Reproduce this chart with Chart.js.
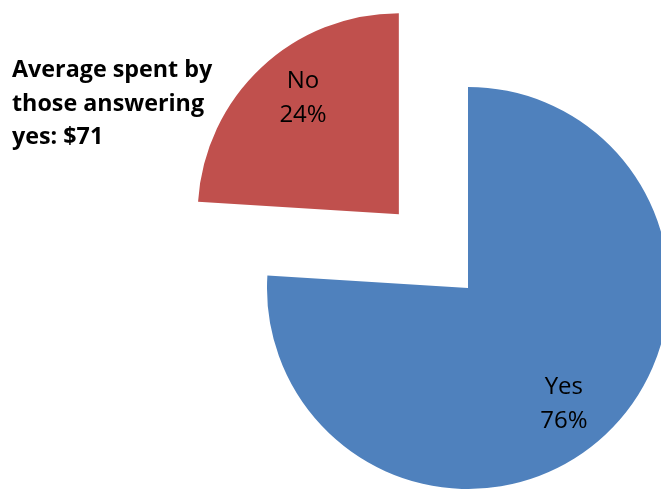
<!DOCTYPE html>
<html>
<head>
<meta charset="utf-8">
<script src="https://cdn.jsdelivr.net/npm/chart.js@4.4.1/dist/chart.umd.min.js"></script>
<style>
  html, body { margin: 0; padding: 0; background: #fff; }
  #wrap { width: 661px; height: 489px; }
</style>
</head>
<body>
<div id="wrap"><canvas id="pie" width="661" height="489"></canvas></div>
<script>
// survey answers
const answers = ["Yes", "No"];
const shares = [76, 24];
const sliceColors = ["#4F81BD", "#C0504D"];
const noteLines = ["Average spent by", "those answering", "yes: $71"];

// draws "Yes / 76%" inside each slice, plus the side note
const sliceLabels = {
  id: "sliceLabels",
  afterDatasetsDraw(chart) {
    const ctx = chart.ctx;
    const arcs = chart.getDatasetMeta(0).data;
    ctx.save();
    ctx.fillStyle = "#000";
    ctx.textAlign = "center";
    ctx.textBaseline = "middle";
    ctx.font = "24px 'Open Sans'";
    arcs.forEach((arc, i) => {
      const half = (arc.startAngle + arc.endAngle) / 2;
      const mid = half + 0.065;
      // arcs are pushed out by a quarter of their offset option
      const shift = (arc.options.offset || 0) / 4;
      const cx = arc.x + Math.cos(half) * shift;
      const cy = arc.y + Math.sin(half) * shift;
      const d = arc.outerRadius * 0.75;
      const x = cx + Math.cos(mid) * d;
      const y = cy + Math.sin(mid) * d;
      ctx.fillText(answers[i], x, y - 17);
      ctx.fillText(shares[i] + "%", x, y + 17);
    });

    ctx.textAlign = "left";
    ctx.textBaseline = "alphabetic";
    ctx.font = "bold 23.3px 'Open Sans'";
    noteLines.forEach((line, i) => ctx.fillText(line, 12, 77 + i * 33.5));
    ctx.restore();
  }
};

new Chart(document.getElementById("pie"), {
  type: "pie",
  data: {
    labels: answers,
    datasets: [{
      data: shares,
      backgroundColor: sliceColors,
      borderWidth: 0,
      offset: [0, 404]
    }]
  },
  options: {
    responsive: false,
    animation: false,
    radius: 201,
    cutout: "0%",
    layout: { padding: { left: 275, right: 0, top: 87, bottom: 0 } },
    plugins: {
      legend: { display: false },
      tooltip: { enabled: false }
    }
  },
  plugins: [sliceLabels]
});
</script>
</body>
</html>
